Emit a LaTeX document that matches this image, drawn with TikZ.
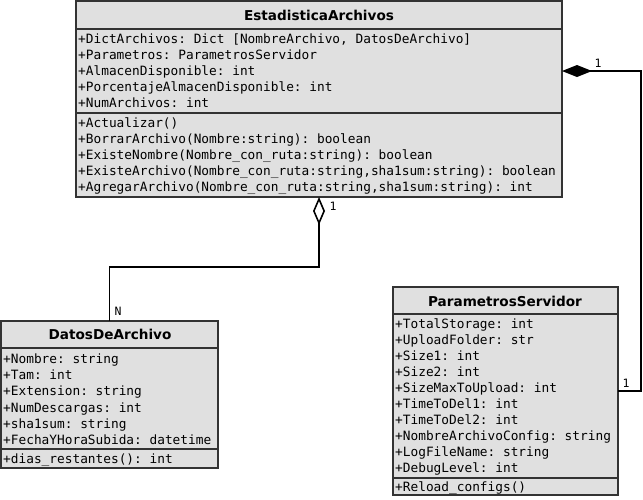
\documentclass[tikz,border=0pt]{standalone}
\usepackage{fontspec}
\setmainfont{DejaVu Sans}
\setmonofont{DejaVu Sans Mono}
\usetikzlibrary{arrows.meta,calc}

\definecolor{umlgray}{RGB}{224,224,224}

\begin{document}
\begin{tikzpicture}[x=1pt,y=-1pt]
\useasboundingbox (0,0) rectangle (643,499);

\tikzset{ClassStyle/.style = {
 draw = black!80,
 line width = 1.6pt,
 fill = umlgray,
 anchor = north west,
 inner sep = 0pt,
 outer sep = 0pt} }
\tikzset{TitleStyle/.style = {font=\fontsize{13.6}{15}\selectfont\bfseries, inner sep=0pt} }
\tikzset{MemberStyle/.style = {font=\fontsize{12.8}{15}\ttfamily, anchor=base west, inner sep=0pt} }
\tikzset{SepStyle/.style = {draw=black!80, line width=1.6pt} }

% class boxes
\node[ClassStyle, minimum width=486pt, minimum height=196pt] (estad) at (76,1) {};
\node[ClassStyle, minimum width=217pt, minimum height=147pt] (datos) at (1,321) {};
\node[ClassStyle, minimum width=225pt, minimum height=208pt] (param) at (393,287) {};

% compartments
\draw[SepStyle] (76,29) -- (562,29);
\draw[SepStyle] (76,113) -- (562,113);
\draw[SepStyle] (1,348) -- (218,348);
\draw[SepStyle] (1,449) -- (218,449);
\draw[SepStyle] (393,314) -- (618,314);
\draw[SepStyle] (393,478) -- (618,478);

% EstadisticaArchivos
\node[TitleStyle] (estadT) at (319,15) {EstadisticaArchivos};
\node[MemberStyle] (estadA1) at (78,43) {+DictArchivos: Dict [NombreArchivo, DatosDeArchivo]};
\node[MemberStyle] (estadA2) at (78,59) {+Parametros: ParametrosServidor};
\node[MemberStyle] (estadA3) at (78,75) {+AlmacenDisponible: int};
\node[MemberStyle] (estadA4) at (78,91) {+PorcentajeAlmacenDisponible: int};
\node[MemberStyle] (estadA5) at (78,107) {+NumArchivos: int};
\node[MemberStyle] (estadM1) at (78,127) {+Actualizar()};
\node[MemberStyle] (estadM2) at (78,143) {+BorrarArchivo(Nombre:string): boolean};
\node[MemberStyle] (estadM3) at (78,159) {+ExisteNombre(Nombre\_con\_ruta:string): boolean};
\node[MemberStyle] (estadM4) at (78,175) {+ExisteArchivo(Nombre\_con\_ruta:string,sha1sum:string): boolean};
\node[MemberStyle] (estadM5) at (78,191) {+AgregarArchivo(Nombre\_con\_ruta:string,sha1sum:string): int};

% DatosDeArchivo
\node[TitleStyle] (datosT) at (110,334) {DatosDeArchivo};
\node[MemberStyle] (datosA1) at (3,363) {+Nombre: string};
\node[MemberStyle] (datosA2) at (3,379) {+Tam: int};
\node[MemberStyle] (datosA3) at (3,395) {+Extension: string};
\node[MemberStyle] (datosA4) at (3,412) {+NumDescargas: int};
\node[MemberStyle] (datosA5) at (3,428) {+sha1sum: string};
\node[MemberStyle] (datosA6) at (3,444) {+FechaYHoraSubida: datetime};
\node[MemberStyle] (datosM1) at (3,463) {+dias\_restantes(): int};

% ParametrosServidor
\node[TitleStyle] (paramT) at (505,301) {ParametrosServidor};
\node[MemberStyle] (paramA1) at (395,328) {+TotalStorage: int};
\node[MemberStyle] (paramA2) at (395,344) {+UploadFolder: str};
\node[MemberStyle] (paramA3) at (395,360) {+Size1: int};
\node[MemberStyle] (paramA4) at (395,376) {+Size2: int};
\node[MemberStyle] (paramA5) at (395,392) {+SizeMaxToUpload: int};
\node[MemberStyle] (paramA6) at (395,408) {+TimeToDel1: int};
\node[MemberStyle] (paramA7) at (395,424) {+TimeToDel2: int};
\node[MemberStyle] (paramA8) at (395,440) {+NombreArchivoConfig: string};
\node[MemberStyle] (paramA9) at (395,456) {+LogFileName: string};
\node[MemberStyle] (paramA10) at (395,472) {+DebugLevel: int};
\node[MemberStyle] (paramM1) at (395,491) {+Reload\_configs()};

% associations
\tikzset{LinkStyle/.style = {line width=1.6pt, black} }
\draw[LinkStyle, {Diamond[open, length=28pt, width=12pt, line width=1.6pt]}-] (estad.south) -- ++(0,70) -| (datos.north);
\draw[LinkStyle, {Diamond[length=30pt, width=12pt]}-] ($(estad.north east)+(0,70)$) -- (641,71) |- (param.east);

\tikzset{MultStyle/.style = {font=\fontsize{11.5}{13}\ttfamily, inner sep=0pt} }
\node[MultStyle] (m1) at (333,206) {1};
\node[MultStyle] (m2) at (118,311) {N};
\node[MultStyle] (m3) at (598,63) {1};
\node[MultStyle] (m4) at (626,383) {1};

\end{tikzpicture}
\end{document}
